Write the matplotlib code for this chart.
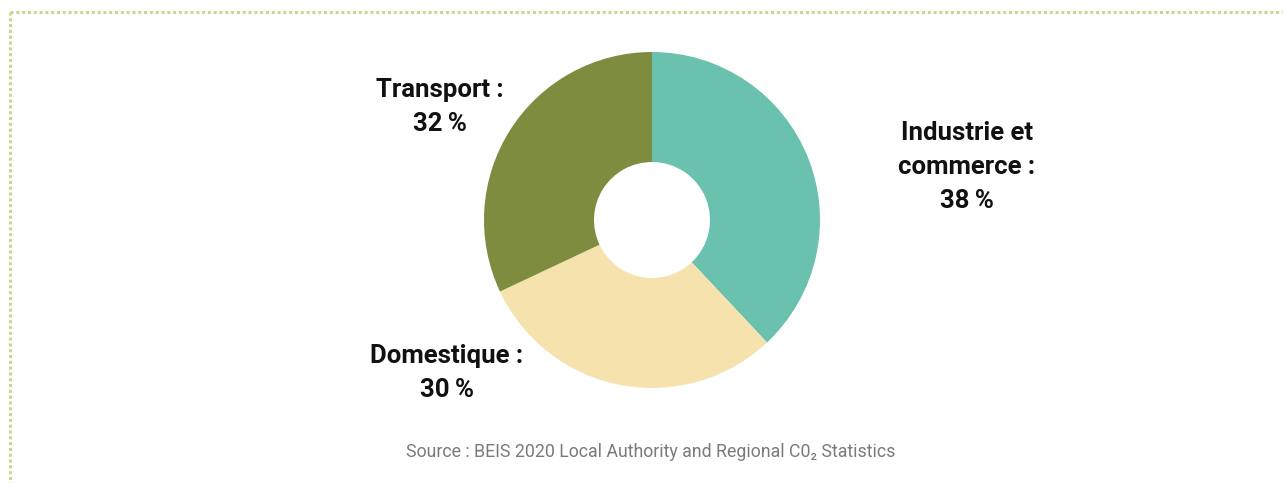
import matplotlib.pyplot as plt
from matplotlib.lines import Line2D

# CO2 emissions by sector
sectors = ["Industrie et\ncommerce :", "Domestique :", "Transport :"]
shares = [38, 30, 32]
colors = ["#6ac1ae", "#f5e2ad", "#7e8c3f"]
source = "Source : BEIS 2020 Local Authority and Regional C0\u2082 Statistics"

W, H = 1284, 483
fig = plt.figure(figsize=(W / 100, H / 100), dpi=100)
ax = fig.add_axes([0, 0, 1, 1])
ax.set_aspect("equal")
ax.axis("off")

# donut
ax.pie(shares, colors=colors, startangle=90, counterclock=False,
       center=(652, H - 220), radius=168,
       wedgeprops=dict(width=110, linewidth=0))
ax.set_xlim(0, W)
ax.set_ylim(0, H)

font = ["Roboto", "DejaVu Sans"]

# labels: centre x and y of the first line, pixels from top-left
label_pos = [(967, 133), (447, 356), (440, 90)]
for name, val, (x, y) in zip(sectors, shares, label_pos):
    lines = name.split("\n") + [f"{val}\u2009%"]
    for i, line in enumerate(lines):
        ax.text(x, H - (y + i * 34), line, ha="center", va="center",
                fontsize=18.5, fontweight="bold", family=font,
                color="#111111")

ax.text(651, H - 452, source, ha="center", va="center", fontsize=12.8,
        color="#7a7a7a", family=font)

# dotted frame (top and left)
dot = dict(color="#c8d98f", linestyle=(0, (1, 0.9)), linewidth=2.2,
           dash_capstyle="butt")
ax.add_line(Line2D([10, 1282], [H - 12, H - 12], **dot))
ax.add_line(Line2D([10, 10], [H - 12, 0], **dot))

fig.savefig("out.png", dpi=100)
